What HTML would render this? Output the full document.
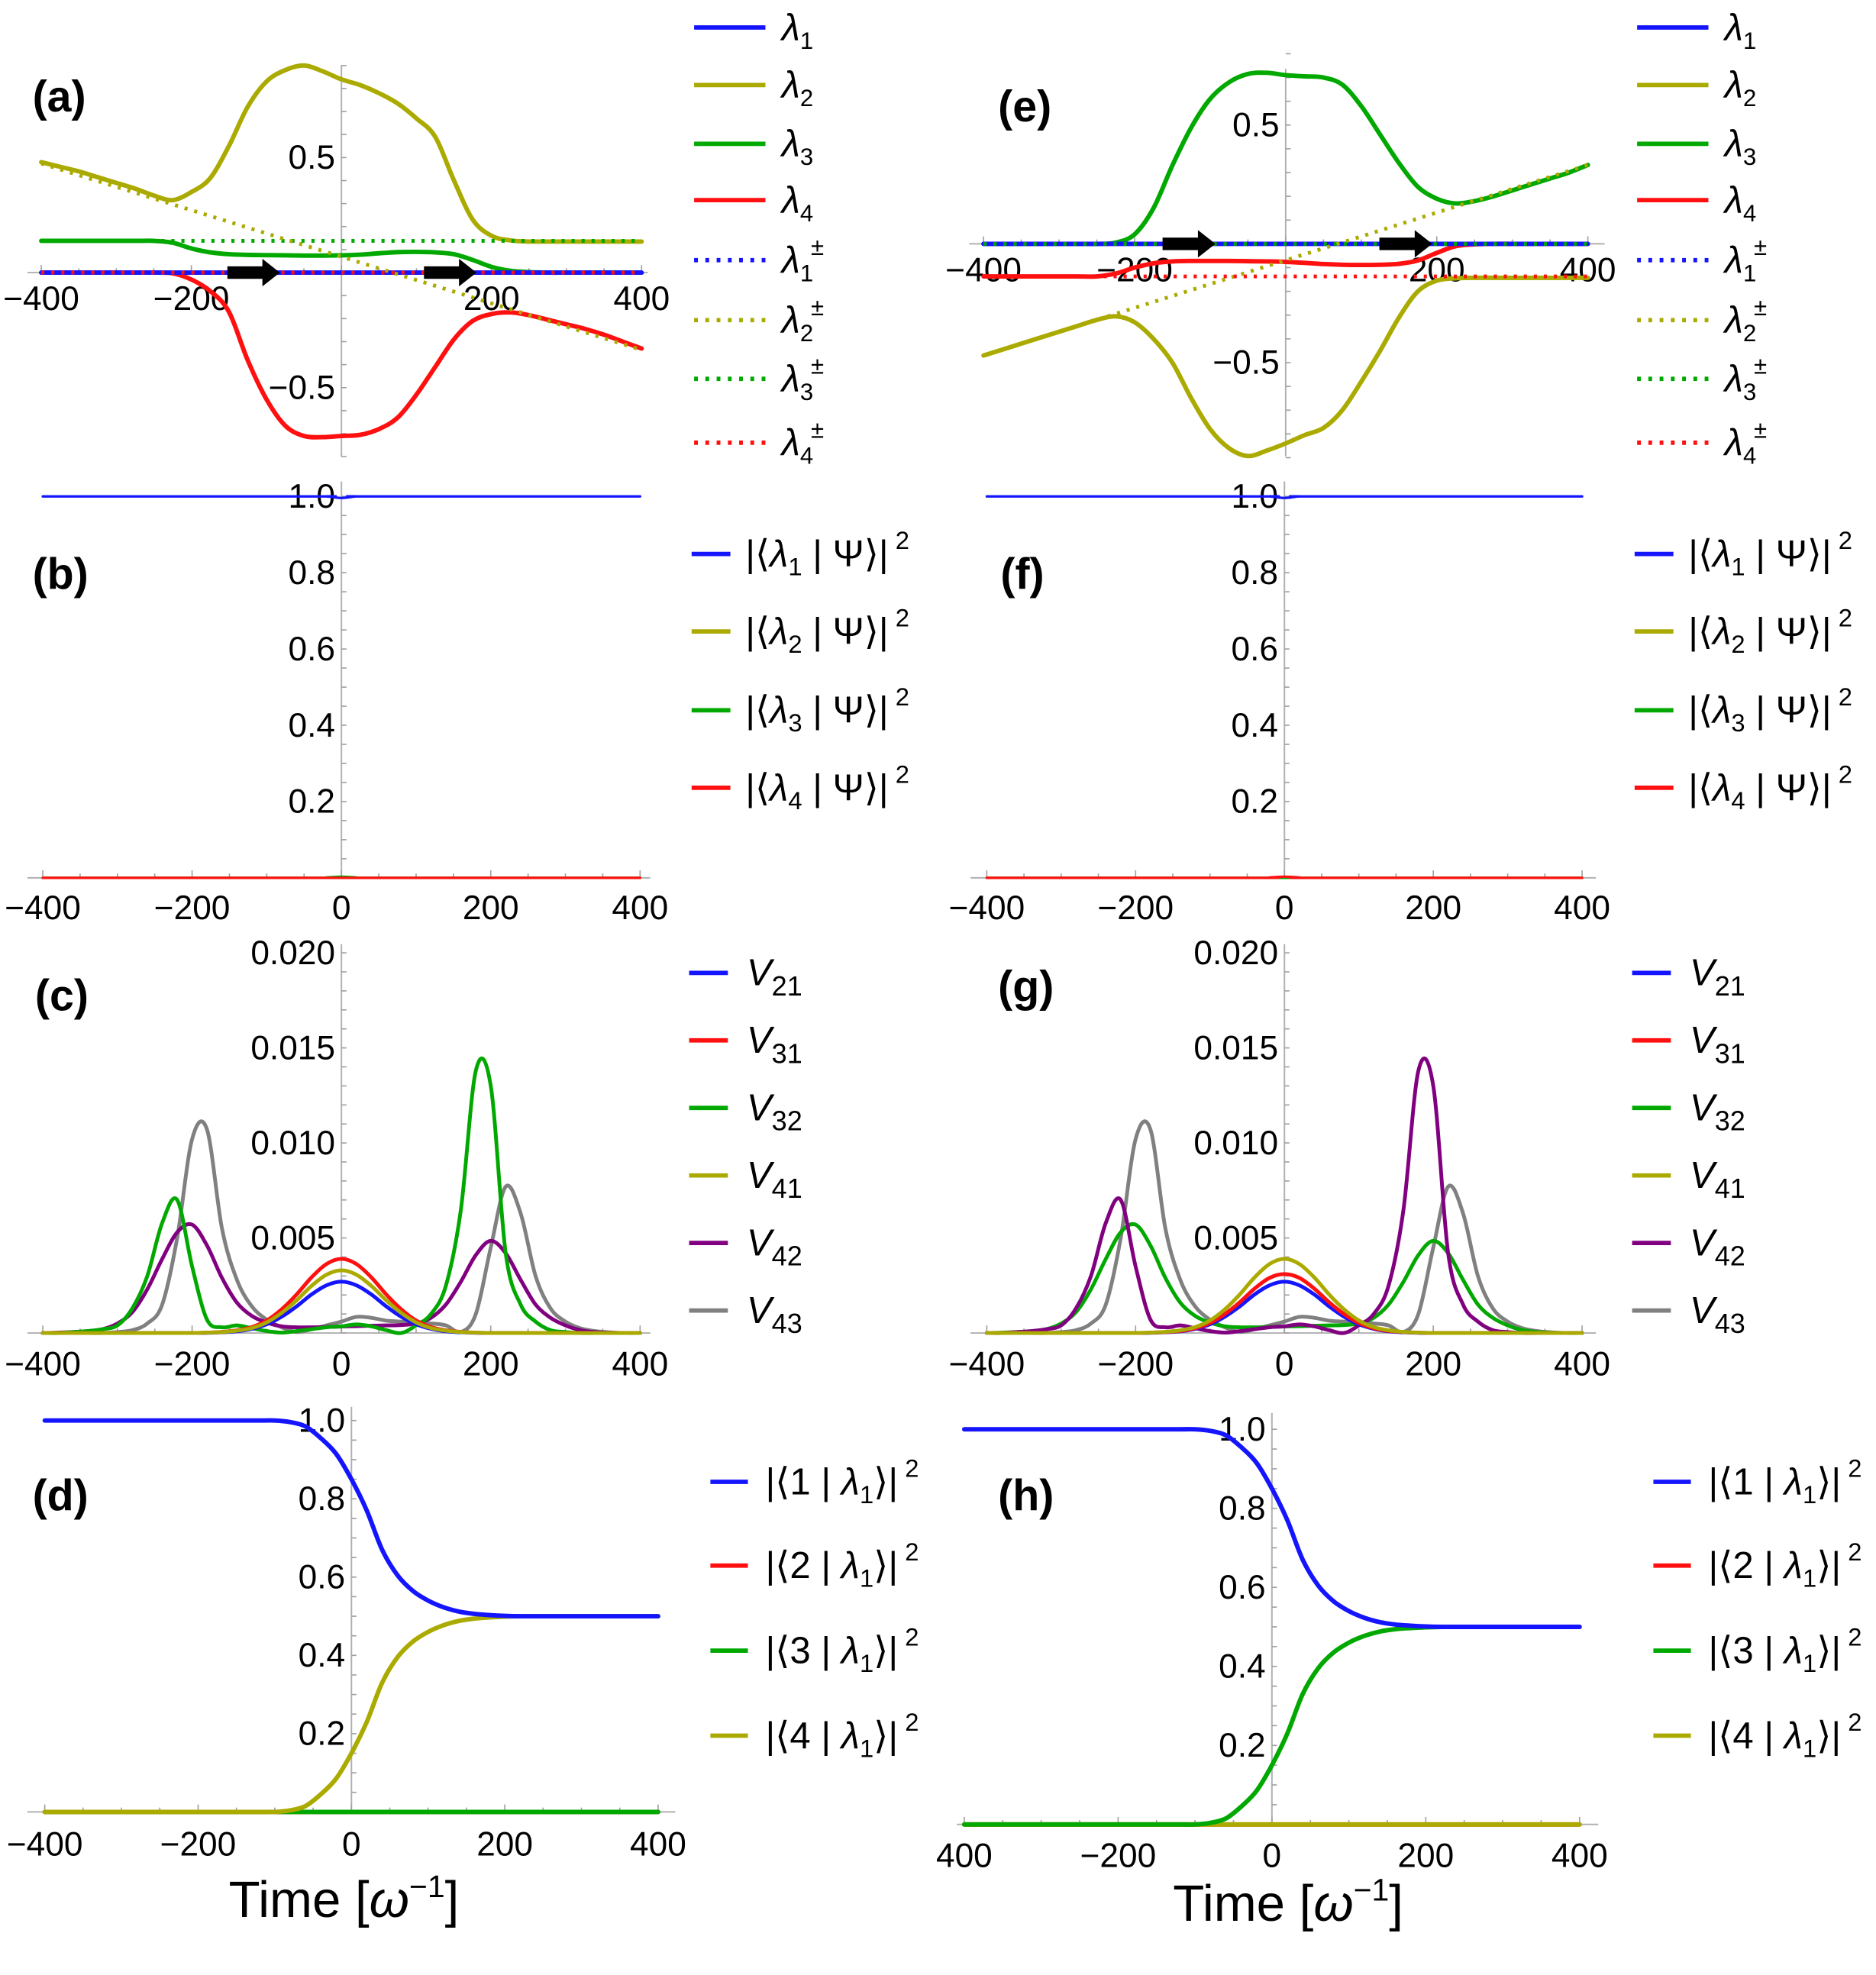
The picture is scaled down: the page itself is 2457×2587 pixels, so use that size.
<!DOCTYPE html>
<html><head><meta charset="utf-8">
<style>
html,body{margin:0;padding:0;background:#fff;}
svg{display:block;}
text{font-family:"Liberation Sans","DejaVu Sans",sans-serif;fill:#000;}
.tk{font-size:27px;}
.pl{font-size:35px;font-weight:bold;}
.lg{font-size:30px;}
</style></head>
<body>
<svg id="chart" xmlns="http://www.w3.org/2000/svg" width="2457" height="2587" viewBox="0 0 1500 1579.4" preserveAspectRatio="none">
<rect x="0" y="0" width="1500" height="1579.4" fill="#fff"/>
<g id="axes"></g>
<g id="series"></g>
<g id="labels">
<text class="pl" x="26" y="89">(a)</text>
<text class="pl" x="26" y="471">(b)</text>
<text class="pl" x="28" y="808">(c)</text>
<text class="pl" x="26" y="1208">(d)</text>
<text class="pl" x="798" y="97">(e)</text>
<text class="pl" x="800" y="471">(f)</text>
<text class="pl" x="798" y="801">(g)</text>
<text class="pl" x="798" y="1208">(h)</text>
<text x="275" y="1533" text-anchor="middle" style="font-size:41px">Time [<tspan font-style="italic">ω</tspan><tspan dy="-16" font-size="25">−1</tspan><tspan dy="16">]</tspan></text>
<text x="1030" y="1536" text-anchor="middle" style="font-size:41px">Time [<tspan font-style="italic">ω</tspan><tspan dy="-16" font-size="25">−1</tspan><tspan dy="16">]</tspan></text>
</g>
<g id="legends"></g>
</svg>
<script>
// ---------- data ----------
const T25 = [-400,-375,-350,-325,-300,-275,-250,-225,-200,-175,-150,-125,-100,-75,-50,-25,0,25,50,75,100,125,150,175,200,225,250,275,300,325,350,375,400];
const T20 = [-400,-380,-360,-340,-320,-300,-280,-260,-240,-220,-200,-180,-160,-140,-120,-100,-80,-60,-40,-20,0,20,40,60,80,100,120,140,160,180,200,220,240,260,280,300,320,340,360,380,400];
const TEND = [-400,400];
const TB = [-400,-40,-20,0,20,40,400];

// panel a
const aL1 = [0,0];
const aL2 = [.48,.46,.44,.415,.39,.365,.335,.315,.35,.41,.55,.72,.83,.88,.90,.875,.84,.815,.78,.735,.67,.59,.40,.23,.16,.14,.135,.135,.135,.135,.135,.135,.135];
const aL3 = [.138,.138,.138,.138,.138,.138,.138,.13,.105,.088,.08,.077,.076,.075,.074,.074,.075,.078,.084,.089,.09,.088,.08,.055,.025,.008,.002,0,0,0,0,0,0];
const aL4 = [0,0,0,0,0,0,0,-.003,-.03,-.08,-.17,-.38,-.55,-.665,-.71,-.715,-.71,-.705,-.68,-.63,-.53,-.41,-.29,-.21,-.18,-.173,-.185,-.205,-.225,-.245,-.27,-.3,-.33];
const aD1 = [0,0];
const aD2 = [.474,-.336];
const aD3 = [.138,.138];
const aD4 = [0,0];
const aArrows = [[-152,-82],[110,180]];
// panel e
const eL1 = [0,0];
const eL2 = [-.47,-.445,-.42,-.395,-.37,-.345,-.32,-.305,-.33,-.4,-.5,-.65,-.78,-.86,-.893,-.87,-.84,-.805,-.775,-.7,-.58,-.45,-.31,-.2,-.155,-.145,-.143,-.143,-.143,-.143,-.143,-.143,-.143];
const eL3 = [0,0,0,0,0,0,0,.005,.04,.15,.33,.49,.61,.68,.715,.72,.71,.705,.70,.67,.58,.46,.34,.24,.19,.17,.18,.2,.225,.25,.275,.3,.332];
const eL4 = [-.137,-.137,-.137,-.137,-.137,-.137,-.137,-.125,-.1,-.082,-.074,-.072,-.072,-.072,-.073,-.074,-.076,-.08,-.085,-.088,-.089,-.088,-.084,-.07,-.038,-.01,-.002,0,0,0,0,0,0];
const eD1 = [0,0];
const eD2 = [-.47,.332];
const eD3 = [0,0];
const eD4 = [-.137,-.137];
const eArrows = [[-163,-93],[124,194]];
// panels b, f
const bP1 = [1,1,1,.996,1,1,1];
const bP2 = [0,0,0,0,0,0,0];
const bP3 = [0,0,.001,.003,.001,0,0];
const bP4 = [0,0,0,0,0,0,0];
const fP1 = [1,1,1,.996,1,1,1];
const fP2 = [0,0,0,0,0,0,0];
const fP3 = [0,0,0,0,0,0,0];
const fP4 = [0,0,.001,.003,.001,0,0];
// panel c (units of 1e-3)
const cV21 = [0,0,0,0,0,0,0,0,0,0,0,.01,.04,.09,.22,.46,.86,1.4,2.03,2.51,2.7,2.51,2.03,1.4,.86,.46,.22,.09,.04,.01,0,0,0,0,0,0,0,0,0,0,0];
const cV31 = [0,0,0,0,0,0,0,0,0,0,0,.02,.06,.14,.31,.66,1.25,2.03,2.93,3.63,3.9,3.63,2.93,2.03,1.25,.66,.31,.14,.06,.02,0,0,0,0,0,0,0,0,0,0,0];
const cV32 = [0,0,.05,.1,.2,.4,1.3,3.0,5.8,7.0,3.5,.7,.3,.4,.25,.1,.02,.1,.2,.3,.35,.45,.35,.15,0,.4,1.0,2.5,6.5,13.8,13.0,4.2,1.5,.6,.15,.05,0,0,0,0,0];
const cV41 = [0,0,0,0,0,0,0,0,0,0,0,.02,.05,.12,.26,.56,1.06,1.72,2.48,3.07,3.3,3.07,2.48,1.72,1.06,.56,.26,.12,.05,.02,0,0,0,0,0,0,0,0,0,0,0];
const cV42 = [0,.02,.05,.1,.2,.5,1.1,2.3,3.9,5.3,5.7,4.6,2.9,1.6,.9,.55,.35,.3,.3,.32,.34,.36,.38,.4,.42,.5,.8,1.5,2.7,4.1,4.85,4.2,2.8,1.5,.8,.4,.15,.05,.02,0,0];
const cV43 = [0,0,0,0,0,.05,.15,.5,1.5,5.0,10.2,10.7,5.5,2.8,1.4,.7,.3,.05,.2,.4,.6,.85,.8,.65,.6,.55,.5,.4,.05,1.0,4.5,7.7,6.3,3.0,1.3,.6,.25,.1,.03,0,0];
// panel g
const gV21 = [0,0,0,0,0,0,0,0,0,0,0,.01,.04,.09,.22,.46,.86,1.4,2.03,2.51,2.7,2.51,2.03,1.4,.86,.46,.22,.09,.04,.01,0,0,0,0,0,0,0,0,0,0,0];
const gV31 = [0,0,0,0,0,0,0,0,0,0,0,.02,.05,.11,.25,.53,1.0,1.62,2.34,2.9,3.1,2.9,2.34,1.62,1.0,.53,.25,.11,.05,.02,0,0,0,0,0,0,0,0,0,0,0];
const gV32 = [0,.02,.05,.1,.2,.5,1.1,2.3,3.9,5.3,5.7,4.6,2.9,1.6,.9,.55,.35,.3,.3,.32,.34,.36,.38,.4,.42,.5,.8,1.5,2.7,4.1,4.85,4.2,2.8,1.5,.8,.4,.15,.05,.02,0,0];
const gV41 = [0,0,0,0,0,0,0,0,0,0,0,.02,.06,.14,.31,.66,1.25,2.03,2.93,3.63,3.9,3.63,2.93,2.03,1.25,.66,.31,.14,.06,.02,0,0,0,0,0,0,0,0,0,0,0];
const gV42 = [0,0,.05,.1,.2,.4,1.3,3.0,5.8,7.0,3.5,.7,.3,.4,.25,.1,.02,.1,.2,.3,.35,.45,.35,.15,0,.4,1.0,2.5,6.5,13.8,13.0,4.2,1.5,.6,.15,.05,0,0,0,0,0];
const gV43 = [0,0,0,0,0,.05,.15,.5,1.5,5.0,10.2,10.7,5.5,2.8,1.4,.7,.3,.05,.2,.4,.6,.85,.8,.65,.6,.55,.5,.4,.05,1.0,4.5,7.7,6.3,3.0,1.3,.6,.25,.1,.03,0,0];
// panels d, h
const dP1 = [1,1,1,1,1,1,1,1,1,1,1,1,1,1,1,1,.996,.985,.955,.915,.85,.77,.67,.605,.565,.54,.523,.512,.506,.503,.501,.5,.5,.5,.5,.5,.5,.5,.5,.5,.5];
const dP2 = [0,0];
const dP3 = [0,0];
const dP4 = [0,0,0,0,0,0,0,0,0,0,0,0,0,0,0,0,.004,.015,.045,.085,.15,.23,.33,.395,.435,.46,.477,.488,.494,.497,.499,.5,.5,.5,.5,.5,.5,.5,.5,.5,.5];
const hP1 = [1,1,1,1,1,1,1,1,1,1,1,1,1,1,1,1,.996,.985,.955,.915,.85,.77,.67,.605,.565,.54,.523,.512,.506,.503,.501,.5,.5,.5,.5,.5,.5,.5,.5,.5,.5];
const hP2 = [0,0];
const hP3 = [0,0,0,0,0,0,0,0,0,0,0,0,0,0,0,0,.004,.015,.045,.085,.15,.23,.33,.395,.435,.46,.477,.488,.494,.497,.499,.5,.5,.5,.5,.5,.5,.5,.5,.5,.5];
const hP4 = [0,0];
// tick labels
const xTicks = [-400,-200,0,200,400];
const yTicksA = [0.5,-0.5];
const yTicksE = [0.5,-0.5];
const yTicksB = [1.0,0.8,0.6,0.4,0.2];
const yTicksC = [5,10,15,20];

// ---------- rendering ----------
const NS = 'http://www.w3.org/2000/svg';
const gAx = document.getElementById('axes');
const gSe = document.getElementById('series');
const gLg = document.getElementById('legends');
const BLUE='#1414ff', OLIVE='#aaaa00', GREEN='#00a800', RED='#ff1010', PURPLE='#800080', GRAY='#808080';

function P(cfg){ cfg.X = t => cfg.x0 + t*cfg.sx; cfg.Y = v => cfg.y0 - v*cfg.sy; return cfg; }
const pa = P({n:'a', x0:273, sx:0.6, y0:218, sy:184, xa:[22,518], ya:[52,365], xl:[-400,-200,200,400], xly:248});
const pe = P({n:'e', x0:1028, sx:0.604, y0:195, sy:190, xa:[775,1283], ya:[55,365], xl:[-400,-200,200,400], xly:225});
const pb = P({n:'b', x0:273, sx:0.597, y0:702, sy:305, xa:[22,520], ya:[385,702], xl:xTicks, xly:735});
const pf = P({n:'f', x0:1027, sx:0.595, y0:702, sy:305, xa:[776,1276], ya:[385,702], xl:xTicks, xly:735});
const pc = P({n:'c', x0:273, sx:0.597, y0:1066, sy:15.2, xa:[22,520], ya:[755,1066], xl:xTicks, xly:1100});
const pg = P({n:'g', x0:1027, sx:0.595, y0:1066, sy:15.2, xa:[776,1276], ya:[755,1066], xl:xTicks, xly:1100});
const pd = P({n:'d', x0:281, sx:0.613, y0:1449, sy:313, xa:[22,540], ya:[1125,1449], xl:xTicks, xly:1484});
const ph = P({n:'h', x0:1017, sx:0.615, y0:1459, sy:316, xa:[765,1278], ya:[1130,1459], xl:xTicks, xly:1493});

function line(g,x1,y1,x2,y2,c,w){
  const l=document.createElementNS(NS,'line');
  l.setAttribute('x1',x1);l.setAttribute('y1',y1);l.setAttribute('x2',x2);l.setAttribute('y2',y2);
  l.setAttribute('stroke',c);l.setAttribute('stroke-width',w);
  g.appendChild(l); return l;
}
function txt(g,x,y,s,anchor,cls){
  const t=document.createElementNS(NS,'text');
  t.setAttribute('x',x);t.setAttribute('y',y);t.setAttribute('text-anchor',anchor);t.setAttribute('class',cls);
  t.textContent=s; g.appendChild(t); return t;
}
function fmtNum(v){ return (v<0?'\u2212':'')+Math.abs(v).toString(); }

function drawAxes(p, yTicks, yFmt, yMinor){
  const xl=line(gAx,p.xa[0],p.y0,p.xa[1],p.y0,'#b0b0b0',1.2);
  
  
  const yl=line(gAx,p.x0,p.ya[0],p.x0,p.ya[1],'#b0b0b0',1.2);
  
  
  for(let t=-400;t<=400;t+=50){
    const big=(t%200===0);
    const tk=line(gAx,p.X(t),p.y0,p.X(t),p.y0-(big?6:3.5),'#a0a0a0',1);
    
    
  }
  for(let v=yMinor[0]; v<=yMinor[1]+1e-9; v+=yMinor[2]){
    const tk=line(gAx,p.x0,p.Y(v),p.x0+4,p.Y(v),'#a0a0a0',1);
    
    
  }
  p.xl.forEach(t=>{
    let s = fmtNum(t);
    if(p.n==='h' && t===-400) s='400';
    const e=txt(gAx,p.X(t),p.xly,s,'middle','tk');
    
    
  });
  yTicks.forEach(v=>{
    const e=txt(gAx,p.x0-5,p.Y(v)+9,yFmt(v),'end','tk');
    
    
  });
}
drawAxes(pa,yTicksA,v=>fmtNum(v),[-0.8,0.9,0.1]);
drawAxes(pe,yTicksE,v=>fmtNum(v),[-0.9,0.8,0.1]);
drawAxes(pb,yTicksB,v=>v.toFixed(1),[0,1.0,0.05]);
drawAxes(pf,yTicksB,v=>v.toFixed(1),[0,1.0,0.05]);
drawAxes(pc,yTicksC,v=>(v/1000).toFixed(3),[0,20,1]);
drawAxes(pg,yTicksC,v=>(v/1000).toFixed(3),[0,20,1]);
drawAxes(pd,yTicksB,v=>v.toFixed(1),[0,1.0,0.05]);
drawAxes(ph,yTicksB,v=>v.toFixed(1),[0,1.0,0.05]);

function pathD(p,T,V){
  const pts=T.map((t,i)=>[p.X(t),p.Y(V[i])]);
  if(pts.length===2) return 'M'+pts[0].join(',')+'L'+pts[1].join(',');
  let d='M'+pts[0][0].toFixed(2)+','+pts[0][1].toFixed(2);
  for(let i=0;i<pts.length-1;i++){
    const p0=pts[Math.max(0,i-1)],p1=pts[i],p2=pts[i+1],p3=pts[Math.min(pts.length-1,i+2)];
    const c1=[p1[0]+(p2[0]-p0[0])/6,p1[1]+(p2[1]-p0[1])/6];
    const c2=[p2[0]-(p3[0]-p1[0])/6,p2[1]-(p3[1]-p1[1])/6];
    d+='C'+c1[0].toFixed(2)+','+c1[1].toFixed(2)+' '+c2[0].toFixed(2)+','+c2[1].toFixed(2)+' '+p2[0].toFixed(2)+','+p2[1].toFixed(2);
  }
  return d;
}
function series(p,T,V,color,w,dotted,name){
  const e=document.createElementNS(NS,'path');
  e.setAttribute('d',pathD(p,T,V));
  e.setAttribute('fill','none');e.setAttribute('stroke',color);e.setAttribute('stroke-width',w);
  e.setAttribute('stroke-linejoin','round');
  if(dotted){e.setAttribute('stroke-dasharray','2.5 5.5');}
  else e.setAttribute('stroke-linecap','round');
  
  
  gSe.appendChild(e);
}
function arrows(p,A){
  A.forEach(a=>{
    const x1=p.X(a[0]),x2=p.X(a[1]),y=p.y0;
    const e=document.createElementNS(NS,'polygon');
    const hx=x2-14;
    e.setAttribute('points',`${x1},${y-5} ${hx},${y-5} ${hx},${y-11} ${x2},${y} ${hx},${y+11} ${hx},${y+5} ${x1},${y+5}`);
    e.setAttribute('fill','#000');
    
    
    gSe.appendChild(e);
  });
}
const W=3.6, WC=3;
// panel a
series(pa,T25,aL2,OLIVE,W,false,'lambda2-a');
series(pa,T25,aL3,GREEN,W,false,'lambda3-a');
series(pa,T25,aL4,RED,W,false,'lambda4-a');
series(pa,TEND,aL1,BLUE,W,false,'lambda1-a');
series(pa,TEND,aD3,GREEN,3,true,'lambda3-diabatic-a');
series(pa,TEND,aD2,OLIVE,3,true,'lambda2-diabatic-a');
series(pa,TEND,aD4,RED,3,true,'lambda4-diabatic-a');
arrows(pa,aArrows);
// panel e
series(pe,T25,eL2,OLIVE,W,false,'lambda2-e');
series(pe,T25,eL3,GREEN,W,false,'lambda3-e');
series(pe,T25,eL4,RED,W,false,'lambda4-e');
series(pe,TEND,eL1,BLUE,W,false,'lambda1-e');
series(pe,TEND,eD3,GREEN,3,true,'lambda3-diabatic-e');
series(pe,TEND,eD2,OLIVE,3,true,'lambda2-diabatic-e');
series(pe,TEND,eD4,RED,3,true,'lambda4-diabatic-e');
arrows(pe,eArrows);
// panels b,f
series(pb,TB,bP2,OLIVE,2,false,'pop2-b');series(pb,TB,bP3,GREEN,2,false,'pop3-b');series(pb,TB,bP4,RED,2,false,'pop4-b');series(pb,TB,bP1,BLUE,2,false,'pop1-b');
series(pf,TB,fP2,OLIVE,2,false,'pop2-f');series(pf,TB,fP3,GREEN,2,false,'pop3-f');series(pf,TB,fP4,RED,2,false,'pop4-f');series(pf,TB,fP1,BLUE,2,false,'pop1-f');
// panels c,g
series(pc,T20,cV43,GRAY,WC,false,'V43-c');series(pc,T20,cV42,PURPLE,WC,false,'V42-c');series(pc,T20,cV32,GREEN,WC,false,'V32-c');
series(pc,T20,cV21,BLUE,WC,false,'V21-c');series(pc,T20,cV31,RED,WC,false,'V31-c');series(pc,T20,cV41,OLIVE,WC,false,'V41-c');
series(pg,T20,gV43,GRAY,WC,false,'V43-g');series(pg,T20,gV32,GREEN,WC,false,'V32-g');series(pg,T20,gV42,PURPLE,WC,false,'V42-g');
series(pg,T20,gV21,BLUE,WC,false,'V21-g');series(pg,T20,gV31,RED,WC,false,'V31-g');series(pg,T20,gV41,OLIVE,WC,false,'V41-g');
// panels d,h
series(pd,TEND,dP2,RED,W,false,'comp2-d');series(pd,TEND,dP3,GREEN,W,false,'comp3-d');
series(pd,T20,dP4,OLIVE,W,false,'comp4-d');series(pd,T20,dP1,BLUE,W,false,'comp1-d');
series(ph,TEND,hP2,RED,W,false,'comp2-h');series(ph,TEND,hP4,OLIVE,W,false,'comp4-h');
series(ph,T20,hP3,GREEN,W,false,'comp3-h');series(ph,T20,hP1,BLUE,W,false,'comp1-h');

// ---------- legends ----------
function legendEntry(x1,x2,tx,y,color,dotted,html,cls,name){
  const l=line(gLg,x1,y,x2,y,color,3.5);
  if(dotted) l.setAttribute('stroke-dasharray','3 6');
  
  
  const t=document.createElementNS(NS,'text');
  t.setAttribute('x',tx);t.setAttribute('y',y+10);t.setAttribute('class',cls);
  t.innerHTML=html;
  
  
  gLg.appendChild(t);
}
const lamCols=[BLUE,OLIVE,GREEN,RED];
const lamY=[22,68,115,160,208,256,303,354];
[0,754].forEach(dx=>{
  for(let i=0;i<8;i++){
    const n=(i%4)+1, dot=i>=4;
    const h=`<tspan font-style="italic">λ</tspan><tspan font-size="19" dy="7">${n}</tspan>`+(dot?`<tspan font-size="19" dy="-21" dx="-2">±</tspan>`:'');
    legendEntry(555+dx,612+dx,625+dx,lamY[i],lamCols[n-1],dot,h,'lg','legend-lambda'+n+(dot?'-diabatic':''));
  }
});
const popY=[443,505,568,630];
[0,754].forEach(dx=>{
  for(let i=0;i<4;i++){
    const h=`|⟨<tspan font-style="italic">λ</tspan><tspan font-size="20" dy="7">${i+1}</tspan><tspan dy="-7"> | Ψ⟩|</tspan><tspan font-size="20" dy="-14"> 2</tspan>`;
    legendEntry(553+dx,584+dx,596+dx,popY[i],lamCols[i],false,h,'lg','legend-population'+(i+1));
  }
});
const vNames=['21','31','32','41','42','43'];
const vCols=[BLUE,RED,GREEN,OLIVE,PURPLE,GRAY];
const vY=[778,832,886,940,994,1048];
[0,754].forEach(dx=>{
  for(let i=0;i<6;i++){
    const h=`<tspan font-style="italic">V</tspan><tspan font-size="22" dy="8">${vNames[i]}</tspan>`;
    legendEntry(551+dx,582+dx,597+dx,vY[i],vCols[i],false,h,'lg','legend-V'+vNames[i]);
  }
});
const cY=[1185,1252,1320,1388];
const cCols=[BLUE,RED,GREEN,OLIVE];
[0,754].forEach(dx=>{
  for(let i=0;i<4;i++){
    const h=`|⟨${i+1} | <tspan font-style="italic">λ</tspan><tspan font-size="20" dy="7">1</tspan><tspan dy="-7">⟩|</tspan><tspan font-size="20" dy="-14"> 2</tspan>`;
    legendEntry(568+dx,598+dx,612+dx,cY[i],cCols[i],false,h,'lg','legend-component'+(i+1));
  }
});
</script>
</body></html>
